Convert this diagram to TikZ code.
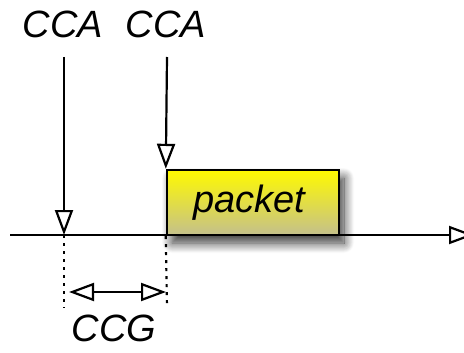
\documentclass[tikz,border=0pt]{standalone}
\usepackage{fontspec}
\setmainfont{Liberation Sans}
\usetikzlibrary{arrows.meta,shadows.blur}
\definecolor{pktTop}{RGB}{255,250,0}
\definecolor{pktBot}{RGB}{196,192,140}
\tikzset{
  lbl/.style={font=\fontsize{38}{40}\selectfont\itshape, inner sep=0pt, anchor=base},
  tip/.style={-{Triangle[open,length=25pt,width=18pt,line width=2.2pt]}},
  bitip/.style={{Triangle[open,length=25pt,width=18pt,line width=2.2pt]}-{Triangle[open,length=25pt,width=18pt,line width=2.2pt]}},
  ln/.style={line width=2.2pt},
  dots/.style={line width=2.2pt, dash pattern=on 3pt off 5pt},
  pktbox/.style={draw, line width=2.4pt, minimum width=172pt, minimum height=65pt, inner sep=0pt,
    top color=pktTop, bottom color=pktBot,
    blur shadow={shadow xshift=5pt, shadow yshift=-8pt, shadow blur steps=14, shadow blur radius=10pt, shadow opacity=80},
    font=\fontsize{38}{40}\selectfont\itshape}
}
\begin{document}
\begin{tikzpicture}[x=1pt,y=-1pt]
\useasboundingbox (0,0) rectangle (464,353);
\node[lbl] (cca1) at (63,38) {CCA};
\node[lbl] (cca2) at (166,38) {CCA};
\coordinate (a1) at (64,57);
\coordinate (a2) at (167,57);
\coordinate (t1) at (64,235);
\coordinate (ls) at (10,235);
\coordinate (le) at (474,235);
\node[pktbox] (packet) at (253,202.5) {\hspace*{-8pt}packet};
\draw[ln,tip] (ls) -- (le);
\draw[ln,tip] (a1) -- (t1);
\draw[ln,tip] (a2) -- (packet.north west);
\coordinate (d1) at (64,308);
\coordinate (d2) at (167,308);
\draw[dots] (t1) -- (d1);
\draw[dots] (packet.south west) -- (d2);
\coordinate (g1) at (69,292);
\coordinate (g2) at (166,292);
\draw[ln,bitip] (g1) -- (g2);
\node[lbl] (ccg) at (114,341) {CCG};
\end{tikzpicture}
\end{document}
